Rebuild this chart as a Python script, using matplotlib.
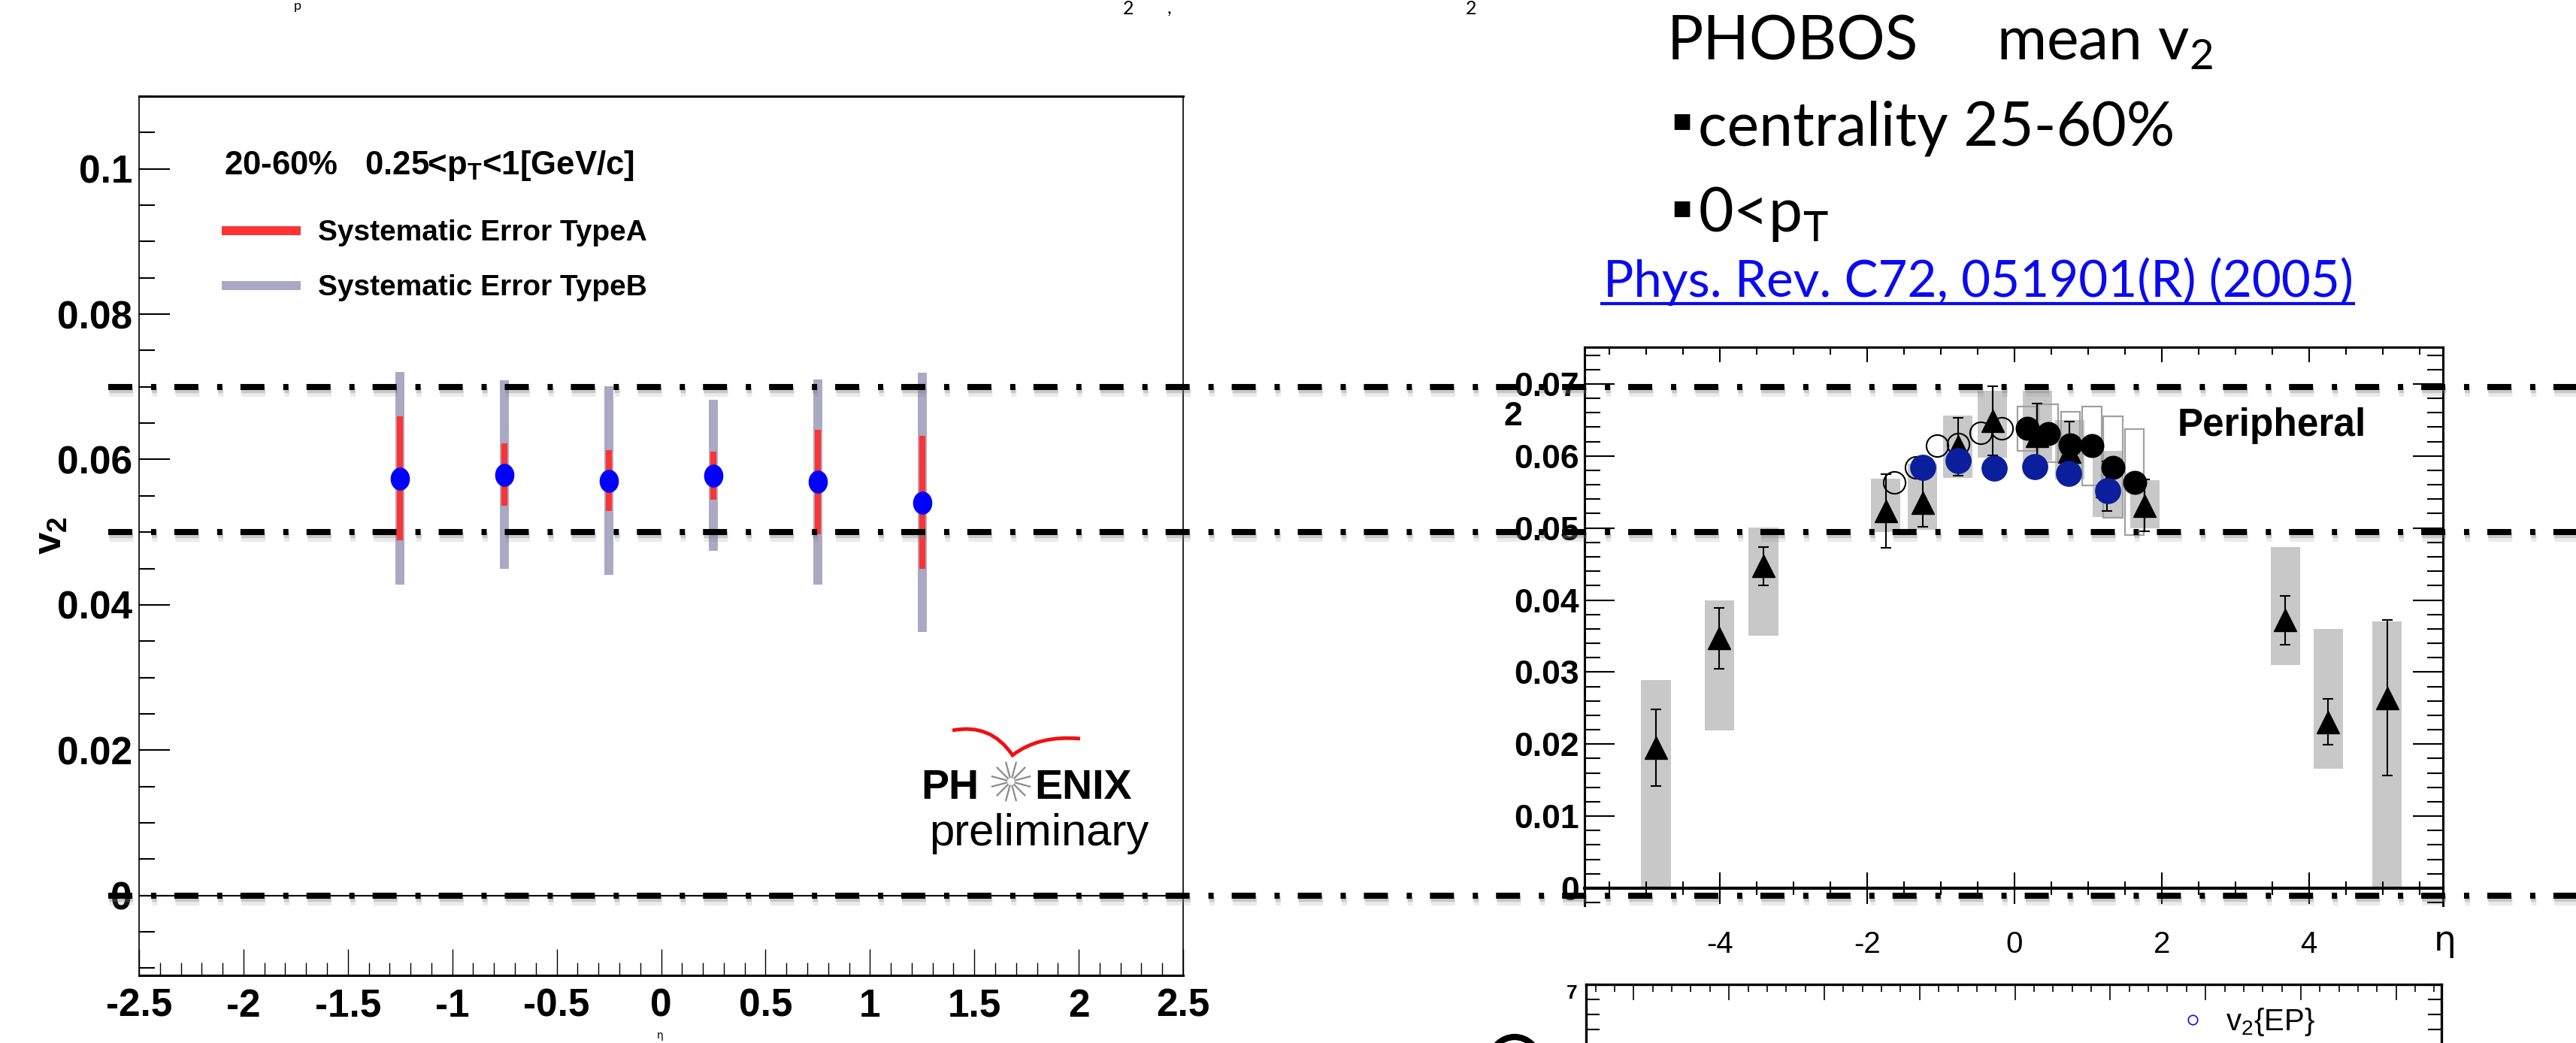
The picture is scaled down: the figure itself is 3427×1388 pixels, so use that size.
import numpy as np
import matplotlib
matplotlib.use('Agg')
import matplotlib.pyplot as plt
from matplotlib.ticker import MultipleLocator
from matplotlib.lines import Line2D
from matplotlib.font_manager import FontProperties
from matplotlib.patches import Ellipse, PathPatch
from matplotlib.path import Path
import matplotlib.transforms as mtransforms

plt.rcParams['axes.unicode_minus'] = False
plt.rcParams['lines.scale_dashes'] = False

# ---------------- data ----------------
# PHENIX preliminary (left panel)
phenix_eta = [-1.25, -0.75, -0.25, 0.25, 0.75, 1.25]
phenix_v2 = [0.0574, 0.0579, 0.0571, 0.0578, 0.0569, 0.0541]
phenix_sysA = [0.0085, 0.0043, 0.0042, 0.0033, 0.0072, 0.0092]
phenix_sysB = [0.0146, 0.0130, 0.0130, 0.0104, 0.0141, 0.0178]
legend_labels = ['Systematic Error TypeA', 'Systematic Error TypeB']
left_xticks = [-2.5, -2, -1.5, -1, -0.5, 0, 0.5, 1, 1.5, 2, 2.5]
left_xticklabels = ['-2.5', '-2', '-1.5', '-1', '-0.5', '0', '0.5', '1', '1.5', '2', '2.5']
left_yticks = [0, 0.02, 0.04, 0.06, 0.08, 0.1]
left_yticklabels = ['0', '0.02', '0.04', '0.06', '0.08', '0.1']

# PHOBOS peripheral (right panel): triangles
tri_eta = [-4.87, -4.01, -3.41, -1.75, -1.25, -0.77, -0.30, 0.31, 0.75, 1.26, 1.77, 3.68, 4.26, 5.06]
tri_v2 = [0.0195, 0.0347, 0.0447, 0.0524, 0.0535, 0.0613, 0.0649, 0.0628, 0.0606, 0.0558, 0.0531, 0.0372, 0.0231, 0.0264]
tri_err = [0.0053, 0.0042, 0.0027, 0.0051, 0.0033, 0.0040, 0.0048, 0.0045, 0.0042, 0.0034, 0.0036, 0.0034, 0.0032, 0.0108]
tri_sys_lo = [0.0, 0.0219, 0.0350, 0.0494, 0.0498, 0.0570, 0.0598, 0.0593, 0.0567, 0.0515, 0.0500, 0.0310, 0.0166, 0.0]
tri_sys_hi = [0.0289, 0.0400, 0.0501, 0.0568, 0.0589, 0.0656, 0.0690, 0.0691, 0.0650, 0.0607, 0.0566, 0.0474, 0.0360, 0.0370]
# filled circles and their systematic boxes
circ_eta = [0.17, 0.46, 0.76, 1.05, 1.34, 1.63]
circ_v2 = [0.0638, 0.0631, 0.0615, 0.0614, 0.0584, 0.0563]
circ_sys_lo = [0.0607, 0.0591, 0.0589, 0.0559, 0.0514, 0.0490]
circ_sys_hi = [0.0669, 0.0672, 0.0661, 0.0669, 0.0655, 0.0637]
# open circles (reflected)
open_eta = [-1.63, -1.34, -1.05, -0.77, -0.46, -0.17]
open_v2 = [0.0563, 0.0584, 0.0614, 0.0616, 0.0632, 0.0638]
# PHENIX points overlaid on the PHOBOS panel
overlay_eta = [-1.25, -0.77, -0.28, 0.28, 0.74, 1.27]
overlay_v2 = [0.0584, 0.0593, 0.0583, 0.0585, 0.0576, 0.0552]
right_xticks = [-4, -2, 0, 2, 4]
right_xticklabels = ['-4', '-2', '0', '2', '4']
right_yticks = [0, 0.01, 0.02, 0.03, 0.04, 0.05, 0.06, 0.07]
right_yticklabels = ['0', '0.01', '0.02', '0.03', '0.04', '0.05', '0.06', '0.07']

# slide guide lines (in v2 units of the left panel)
guide_levels = [0.07, 0.05, 0.0]

# ---------------- style ----------------
RED = '#ff3333'
GREYB = '#aaa8c3'
BLUE = '#0000ff'
DARKBLUE = '#0b1f9c'
BOXGREY = '#c8c8c8'
LINKBLUE = '#0a0af0'

NARROW = ['Liberation Sans Narrow', 'Liberation Sans', 'DejaVu Sans']
HELV = ['Liberation Sans', 'DejaVu Sans']
CAL = ['Lato', 'DejaVu Sans']

W, H = 3427, 1388
fig = plt.figure(figsize=(W / 100, H / 100), dpi=100)
fig.patch.set_facecolor('white')


def fx(px):
    return px / W


def fy(py):
    return 1 - py / H


# ================= LEFT PANEL =================
axL = fig.add_axes([fx(185), fy(1298), (1574 - 185) / W, (1298 - 128) / H])
axL.set_xlim(-2.5, 2.5)
axL.set_ylim(-0.011, 0.11)

pe = np.array(phenix_eta)
pv = np.array(phenix_v2)
axL.axhline(0, color='k', lw=1.5, zorder=1)
axL.vlines(pe, pv - np.array(phenix_sysB), pv + np.array(phenix_sysB),
           color=GREYB, lw=8.6, zorder=2)
axL.vlines(pe, pv - np.array(phenix_sysA), pv + np.array(phenix_sysA),
           color=RED, lw=5.8, zorder=3)
ell = Path.unit_circle().transformed(mtransforms.Affine2D().scale(0.83, 1.0))
axL.plot(pe, pv, ls='none', marker=ell, ms=21, color=BLUE, zorder=4)

axL.set_xticks(left_xticks, labels=left_xticklabels)
axL.set_yticks(left_yticks, labels=left_yticklabels)
axL.xaxis.set_minor_locator(MultipleLocator(0.1))
axL.yaxis.set_minor_locator(MultipleLocator(0.005))
axL.tick_params(axis='both', which='both', direction='in', top=False, right=False)
axL.tick_params(axis='y', which='major', length=29.5, width=1.5, pad=6.5)
axL.tick_params(axis='y', which='minor', length=15, width=1.5)
axL.tick_params(axis='x', which='major', length=25, width=1.0, pad=12)
axL.tick_params(axis='x', which='minor', length=12.5, width=1.0)
fpL = FontProperties(family=NARROW, weight='bold', size=37)
for lbl in axL.get_xticklabels() + axL.get_yticklabels():
    lbl.set_fontproperties(fpL)
for s in ['top', 'bottom']:
    axL.spines[s].set_linewidth(2.2)
for s in ['left', 'right']:
    axL.spines[s].set_linewidth(1.2)

axL.set_ylabel(r'v$_\mathregular{2}$', fontproperties=FontProperties(family=NARROW, weight='bold', size=38))
axL.yaxis.set_label_coords(-0.067, 0.50)
axL.set_xlabel('η', fontproperties=FontProperties(family=['DejaVu Sans'], size=10))
axL.xaxis.set_label_coords(0.499, -0.0625)

axL.text(0.0814, 0.9111, r'20-60%   0.25<p$_\mathregular{T}$<1[GeV/c]', transform=axL.transAxes,
         va='baseline', ha='left', fontproperties=FontProperties(family=NARROW, weight='bold', size=31.5))
hA = Line2D([], [], color=RED, lw=8.6, solid_capstyle='butt')
hB = Line2D([], [], color=GREYB, lw=8.6, solid_capstyle='butt')
axL.legend([hA, hB], legend_labels, loc='upper left', bbox_to_anchor=(0.0792, 0.8596),
           frameon=False, borderpad=0, borderaxespad=0, handlelength=2.7,
           handletextpad=0.6, labelspacing=0.95,
           prop=FontProperties(family=NARROW, weight='bold', size=28))

# PHENIX preliminary logo
fig.text(fx(1302), fy(1063), 'PH', ha='right', va='baseline',
         fontproperties=FontProperties(family=NARROW, weight='bold', size=40))
fig.text(fx(1376), fy(1063), 'ENIX', ha='left', va='baseline',
         fontproperties=FontProperties(family=NARROW, weight='bold', size=40))
fig.text(fx(1236), fy(1125), 'preliminary', ha='left', va='baseline',
         fontproperties=FontProperties(family=NARROW, size=43))
cx, cy = 1345, 1040
for k in range(12):
    a = np.pi * k / 6 + np.pi / 12
    fig.add_artist(Line2D([fx(cx + 6 * np.cos(a)), fx(cx + 26 * np.cos(a))],
                          [fy(cy + 6 * np.sin(a)), fy(cy + 26 * np.sin(a))],
                          color='#8a8a8a', lw=1.6, transform=fig.transFigure))
sw = Path([(fx(1267), fy(972)), (fx(1318), fy(962)), (fx(1347), fy(1005)),
           (fx(1382), fy(978)), (fx(1437), fy(983))],
          [Path.MOVETO, Path.CURVE3, Path.CURVE3, Path.CURVE3, Path.CURVE3])
fig.add_artist(PathPatch(sw, fill=False, ec='#ee1111', lw=3.5, transform=fig.transFigure))

# ================= RIGHT PANEL =================
axR = fig.add_axes([fx(2108), fy(1205), (3250 - 2108) / W, (1205 - 462) / H])
axR.set_xlim(-5.84, 5.82)
axR.set_ylim(-0.0024, 0.0751)
axR.patch.set_alpha(0)

te = np.array(tri_eta)
axR.bar(te, np.array(tri_sys_hi) - np.array(tri_sys_lo), bottom=tri_sys_lo, width=0.4,
        color=BOXGREY, linewidth=0, zorder=1)
axR.bar(circ_eta, np.array(circ_sys_hi) - np.array(circ_sys_lo), bottom=circ_sys_lo, width=0.26,
        fill=False, edgecolor='#a0a0a0', linewidth=1.6, zorder=2)
axR.errorbar(te, tri_v2, yerr=tri_err, fmt='none', ecolor='k', elinewidth=1.5,
             capsize=4.7, capthick=1.5, zorder=3)
axR.plot(open_eta, open_v2, ls='none', marker='o', ms=21, mfc='none', mec='k', mew=1.5, zorder=3.5)
axR.plot(te, tri_v2, ls='none', marker='^', ms=21, color='k', zorder=4)
axR.plot(circ_eta, circ_v2, ls='none', marker='o', ms=22, color='k', zorder=5)
axR.plot(overlay_eta, overlay_v2, ls='none', marker='o', ms=24, color=DARKBLUE, zorder=6)

axR.spines['bottom'].set_position(('data', 0))
axR.spines['bottom'].set_linewidth(3)
for s in ['left', 'right', 'top']:
    axR.spines[s].set_linewidth(2.2)
axR.set_xticks(right_xticks, labels=right_xticklabels)
axR.xaxis.set_minor_locator(MultipleLocator(0.5))
axR.tick_params(axis='x', which='major', direction='inout', length=30, width=1.5, pad=25, top=False)
axR.tick_params(axis='x', which='minor', direction='inout', length=13, width=1.5, top=False)
secR = axR.secondary_xaxis('top')
secR.set_xticks(right_xticks, labels=[])
secR.xaxis.set_minor_locator(MultipleLocator(0.5))
secR.tick_params(axis='x', which='major', direction='in', length=14.5, width=1.5)
secR.tick_params(axis='x', which='minor', direction='in', length=7, width=1.5)
secR.spines['top'].set_linewidth(2.2)

axR.set_yticks(right_yticks, labels=right_yticklabels)
axR.yaxis.set_minor_locator(MultipleLocator(0.002))
axR.tick_params(axis='y', which='both', direction='in', left=True, right=True)
axR.tick_params(axis='y', which='major', length=29, width=1.5, pad=5)
axR.tick_params(axis='y', which='minor', length=15, width=1.5)
for lbl in axR.get_yticklabels():
    lbl.set_fontproperties(FontProperties(family=HELV, weight='bold', size=32))
for lbl in axR.get_xticklabels():
    lbl.set_fontproperties(FontProperties(family=HELV, size=29))

axR.set_ylabel('2', rotation=0, ha='center', va='center',
               fontproperties=FontProperties(family=HELV, weight='bold', size=32))
axR.yaxis.set_label_coords(-0.083, 0.875)
axR.set_xlabel('η', ha='center', va='top', fontproperties=FontProperties(family=['DejaVu Sans'], size=34))
axR.xaxis.set_label_coords(1.002, -0.034)
axR.text(0.691, 0.841, 'Peripheral', transform=axR.transAxes, ha='left', va='baseline',
         fontproperties=FontProperties(family=HELV, weight='bold', size=37))

# ================= BOTTOM-RIGHT PANEL (cut off) =================
axB = fig.add_axes([fx(2110), 0, (3248 - 2110) / W, (1388 - 1310) / H])
axB.set_xlim(-0.5, 8.475)
axB.set_ylim(6.22, 7)
axB.patch.set_alpha(0)
axB.spines['bottom'].set_visible(False)
for s in ['top', 'left', 'right']:
    axB.spines[s].set_linewidth(2.4)
axB.xaxis.set_ticks_position('top')
axB.xaxis.set_major_locator(MultipleLocator(1))
axB.xaxis.set_minor_locator(MultipleLocator(0.2))
axB.tick_params(axis='x', which='major', direction='in', length=15, width=1.2, labeltop=False)
axB.tick_params(axis='x', which='minor', direction='in', length=7, width=1.2)
axB.set_yticks([7], labels=['7'])
axB.yaxis.set_minor_locator(MultipleLocator(0.2))
axB.tick_params(axis='y', which='both', direction='in', left=True, right=True, length=13, width=1.5, pad=8)
for lbl in axB.get_yticklabels():
    lbl.set_fontproperties(FontProperties(family=NARROW, weight='bold', size=19))
    lbl.set_va('top')
hEP = Line2D([], [], ls='none', marker='o', ms=9, mfc='none', mec='#1010e0', mew=1.2)
axB.legend([hEP], [r'v$_\mathregular{2}${EP}'], loc='center left', bbox_to_anchor=(0.6916, 0.36),
           frameon=False, borderpad=0, borderaxespad=0, handlelength=1.0, handletextpad=0.6,
           prop=FontProperties(family=NARROW, size=29))
fig.add_artist(Ellipse((fx(2015), fy(1412)), 2 * 32 / W, 2 * 32 / H, fill=False, ec='k', lw=6,
                       transform=fig.transFigure))

# ================= slide text =================
fpC = FontProperties(family=CAL, size=58)
fig.text(fx(2218), fy(80), 'PHOBOS', ha='left', va='baseline', fontproperties=fpC)
fig.text(fx(2656), fy(80), r'mean v$_\mathregular{2}$', ha='left', va='baseline', fontproperties=fpC)
fpBul = FontProperties(family=['DejaVu Sans'], size=30)
fig.text(fx(2237), fy(160), '▪', ha='center', va='center', fontproperties=fpBul)
fig.text(fx(2259), fy(194), 'centrality 25-60%', ha='left', va='baseline', fontproperties=fpC)
fig.text(fx(2237), fy(276), '▪', ha='center', va='center', fontproperties=fpBul)
fig.text(fx(2259), fy(308), r'0<p$_\mathregular{T}$', ha='left', va='baseline', fontproperties=fpC)
fig.text(fx(2133), fy(395), 'Phys. Rev. C72, 051901(R) (2005)', ha='left', va='baseline', color=LINKBLUE,
         fontproperties=FontProperties(family=CAL, size=48.5))
fig.add_artist(Line2D([fx(2131), fx(3131)], [fy(404), fy(404)], color=LINKBLUE, lw=3,
                      transform=fig.transFigure))

# fragments of the slide title above the visible area (kept inside the canvas)
fig.text(fx(1494), fy(0), '2', ha='left', va='top', fontproperties=FontProperties(family=CAL, size=18))
fig.text(fx(1553), fy(0), ',', ha='left', va='top', fontproperties=FontProperties(family=CAL, size=18))
fig.text(fx(1950), fy(0), '2', ha='left', va='top', fontproperties=FontProperties(family=CAL, size=18))
fig.text(fx(391), fy(0), 'p', ha='left', va='top', fontproperties=FontProperties(family=CAL, size=13))

# ================= dash-dot guide lines across the slide =================
trans = mtransforms.blended_transform_factory(fig.transFigure, axL.transData)
dash = (0, (23, 18, 5, 17.3))
for lvl in guide_levels:
    for dy, alpha, lw in [(-7, 0.15, 8.0), (-4, 0.3, 6.0)]:
        tr = mtransforms.offset_copy(trans, fig=fig, x=1, y=dy, units='dots')
        fig.add_artist(Line2D([fx(144), 1.0], [lvl, lvl], transform=tr, color='#7a7a7a',
                              alpha=alpha, lw=lw, ls=dash, zorder=9))
    fig.add_artist(Line2D([fx(144), 1.0], [lvl, lvl], transform=trans, color='k',
                          lw=5.8, ls=dash, zorder=10))

fig.savefig('out.png', dpi=100, facecolor='white')
